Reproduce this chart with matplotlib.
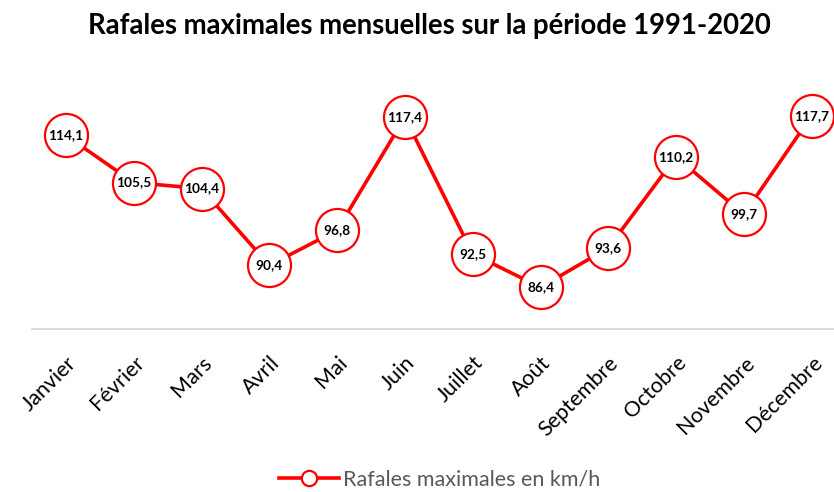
import matplotlib.pyplot as plt
from matplotlib.lines import Line2D

plt.rcParams['font.family'] = ['Lato', 'DejaVu Sans']

mois = ["Janvier", "Février", "Mars", "Avril", "Mai", "Juin", "Juillet",
        "Août", "Septembre", "Octobre", "Novembre", "Décembre"]
rafales = [114.1, 105.5, 104.4, 90.4, 96.8, 117.4, 92.5, 86.4, 93.6, 110.2, 99.7, 117.7]

red = "#ff0000"
fig = plt.figure(figsize=(8.34, 4.92), dpi=100)
# plot area runs slightly past the right edge of the figure
ax = fig.add_axes([32 / 834, 1 - 329 / 492, 813.6 / 834, 260 / 492])

x = range(len(mois))
ax.plot(x, rafales, color=red, lw=2.6, marker="o", ms=31, mfc="white",
        mec=red, mew=1.6, clip_on=False, zorder=3)
for xi, v in zip(x, rafales):
    ax.text(xi, v, f"{v:.1f}".replace(".", ","), ha="center", va="center",
            fontsize=9.8, fontweight="bold", zorder=4)

ax.set_xlim(-0.5, 11.5)
ax.set_ylim(78.8, 126.2)
ax.set_yticks([])
ax.set_xticks(list(x))
ax.set_xticklabels(mois, rotation=45, ha="right", va="top",
                   rotation_mode="anchor", fontsize=15.5)
ax.tick_params(axis="x", length=0, pad=17)
for s in ["top", "right", "left"]:
    ax.spines[s].set_visible(False)
ax.spines["bottom"].set_color("#d9d9d9")
ax.spines["bottom"].set_linewidth(1.3)

fig.text(0.515, 1 - 26 / 492, "Rafales maximales mensuelles sur la période 1991-2020",
         ha="center", va="center", fontsize=19.8, fontweight="bold")

handle = Line2D([], [], color=red, lw=2.6, marker="o", ms=11, mfc="white", mec=red, mew=1.6)
fig.legend([handle], ["Rafales maximales en km/h"], loc="center",
           bbox_to_anchor=(0.527, 1 - 480 / 492), frameon=False, fontsize=15.5,
           labelcolor="#595959", handlelength=2.8, handletextpad=0.2)

fig.savefig("out.png", dpi=100)
